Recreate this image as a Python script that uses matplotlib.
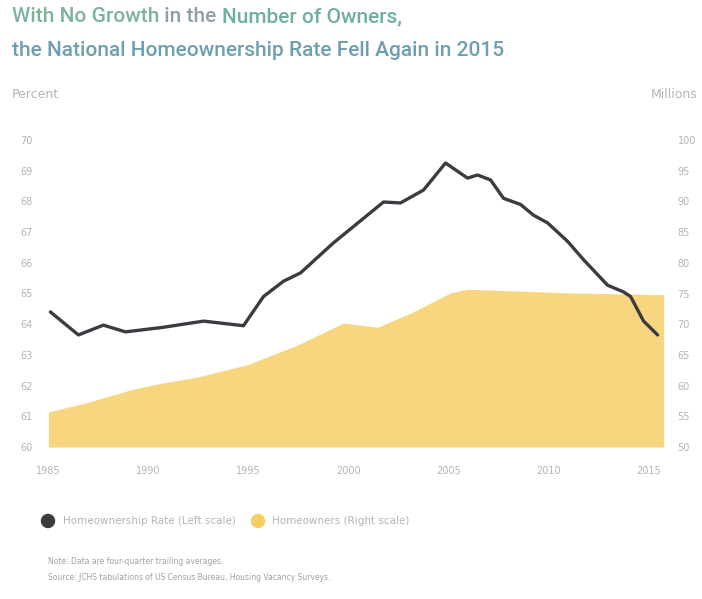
import matplotlib.pyplot as plt
from matplotlib.patches import Ellipse

# homeownership rate, percent (left scale)
rate_years = [1985.1, 1986.5, 1987.75, 1988.85, 1990.75, 1992.75, 1994.1, 1994.75,
              1995.75, 1996.75, 1997.6, 1999.25, 2001.75, 2002.6, 2003.75, 2004.85,
              2005.95, 2006.45, 2007.1, 2007.75, 2008.6, 2009.25, 2009.95, 2010.95,
              2011.75, 2012.95, 2013.75, 2014.1, 2014.75, 2015.45]
rate = [64.4, 63.65, 63.97, 63.75, 63.9, 64.1, 64.0, 63.95,
        64.9, 65.4, 65.67, 66.65, 67.98, 67.95, 68.37, 69.25,
        68.76, 68.86, 68.7, 68.1, 67.9, 67.55, 67.3, 66.7,
        66.1, 65.27, 65.05, 64.9, 64.1, 63.65]

# homeowner households, millions (right scale)
owner_years = [1985.0, 1987.0, 1989.1, 1990.5, 1992.45, 1994.95, 1997.45, 1999.75,
               2001.45, 2003.1, 2005.1, 2005.95, 2010.95, 2015.75]
owners = [55.7, 57.3, 59.3, 60.3, 61.4, 63.4, 66.6, 70.2,
          69.5, 71.8, 75.1, 75.7, 75.1, 74.8]

xticks = [1985, 1990, 1995, 2000, 2005, 2010, 2015]
left_ticks = list(range(60, 71))
right_ticks = list(range(50, 101, 5))

LINE = "#3b3b42"
FILL = "#f8d680"
GREY = "#b4b4b4"
W, H = 702, 599

fig = plt.figure(figsize=(W / 100, H / 100), dpi=100)
ax = fig.add_axes([48 / W, 1 - 447 / H, 617 / W, 307 / H])
ax2 = ax.twinx()
ax.set_zorder(ax2.get_zorder() + 1)
ax.patch.set_visible(False)

ax2.fill_between(owner_years, owners, 50, color=FILL, linewidth=0)
ax.plot(rate_years, rate, color=LINE, linewidth=2.4, solid_capstyle="round",
        solid_joinstyle="round")

ax.set_xlim(1984.98, 2015.82)
ax.set_ylim(60, 70)
ax2.set_ylim(50, 100)
ax.set_xticks(xticks)
ax.set_yticks(left_ticks)
ax2.set_yticks(right_ticks)

for a in (ax, ax2):
    for s in a.spines.values():
        s.set_visible(False)
    a.tick_params(length=0, labelsize=7, labelcolor=GREY)
ax.tick_params(axis="y", pad=11)
ax2.tick_params(axis="y", pad=9)
ax.tick_params(axis="x", pad=14)

# title, first line in three colours
title_kw = dict(fontsize=15, family="Roboto", fontweight="medium", va="center")
r = fig.canvas.get_renderer()
x = 12 / W
for part, col in [("With No Growth", "#7bb39b"), (" in the ", "#8e9fa6"),
                  ("Number of Owners,", "#70aea3")]:
    t = fig.text(x, 1 - 17 / H, part, color=col, **title_kw)
    x = t.get_window_extent(r).x1 / fig.bbox.width
fig.text(12 / W, 1 - 50 / H, "the National Homeownership Rate Fell Again in 2015",
         color="#6e9fb1", **title_kw)

fig.text(12 / W, 1 - 95 / H, "Percent", fontsize=9, color=GREY, va="center")
fig.text(698 / W, 1 - 95 / H, "Millions", fontsize=9, color=GREY, va="center",
         ha="right")

# legend
for cx, col in [(48, LINE), (258, "#f5cf63")]:
    fig.add_artist(Ellipse((cx / W, 1 - 521 / H), 13 / W, 13 / H, color=col,
                           transform=fig.transFigure))
fig.text(63 / W, 1 - 521 / H, "Homeownership Rate (Left scale)", fontsize=7.5,
         color=GREY, va="center")
fig.text(272 / W, 1 - 521 / H, "Homeowners (Right scale)", fontsize=7.5,
         color=GREY, va="center")

# notes
fig.text(48 / W, 1 - 562 / H, "Note: Data are four-quarter trailing averages.",
         fontsize=5.5, color="#a0a0a0", va="center")
fig.text(48 / W, 1 - 578 / H,
         "Source: JCHS tabulations of US Census Bureau, Housing Vacancy Surveys.",
         fontsize=5.5, color="#a0a0a0", va="center")

fig.savefig("out.png", dpi=100)
